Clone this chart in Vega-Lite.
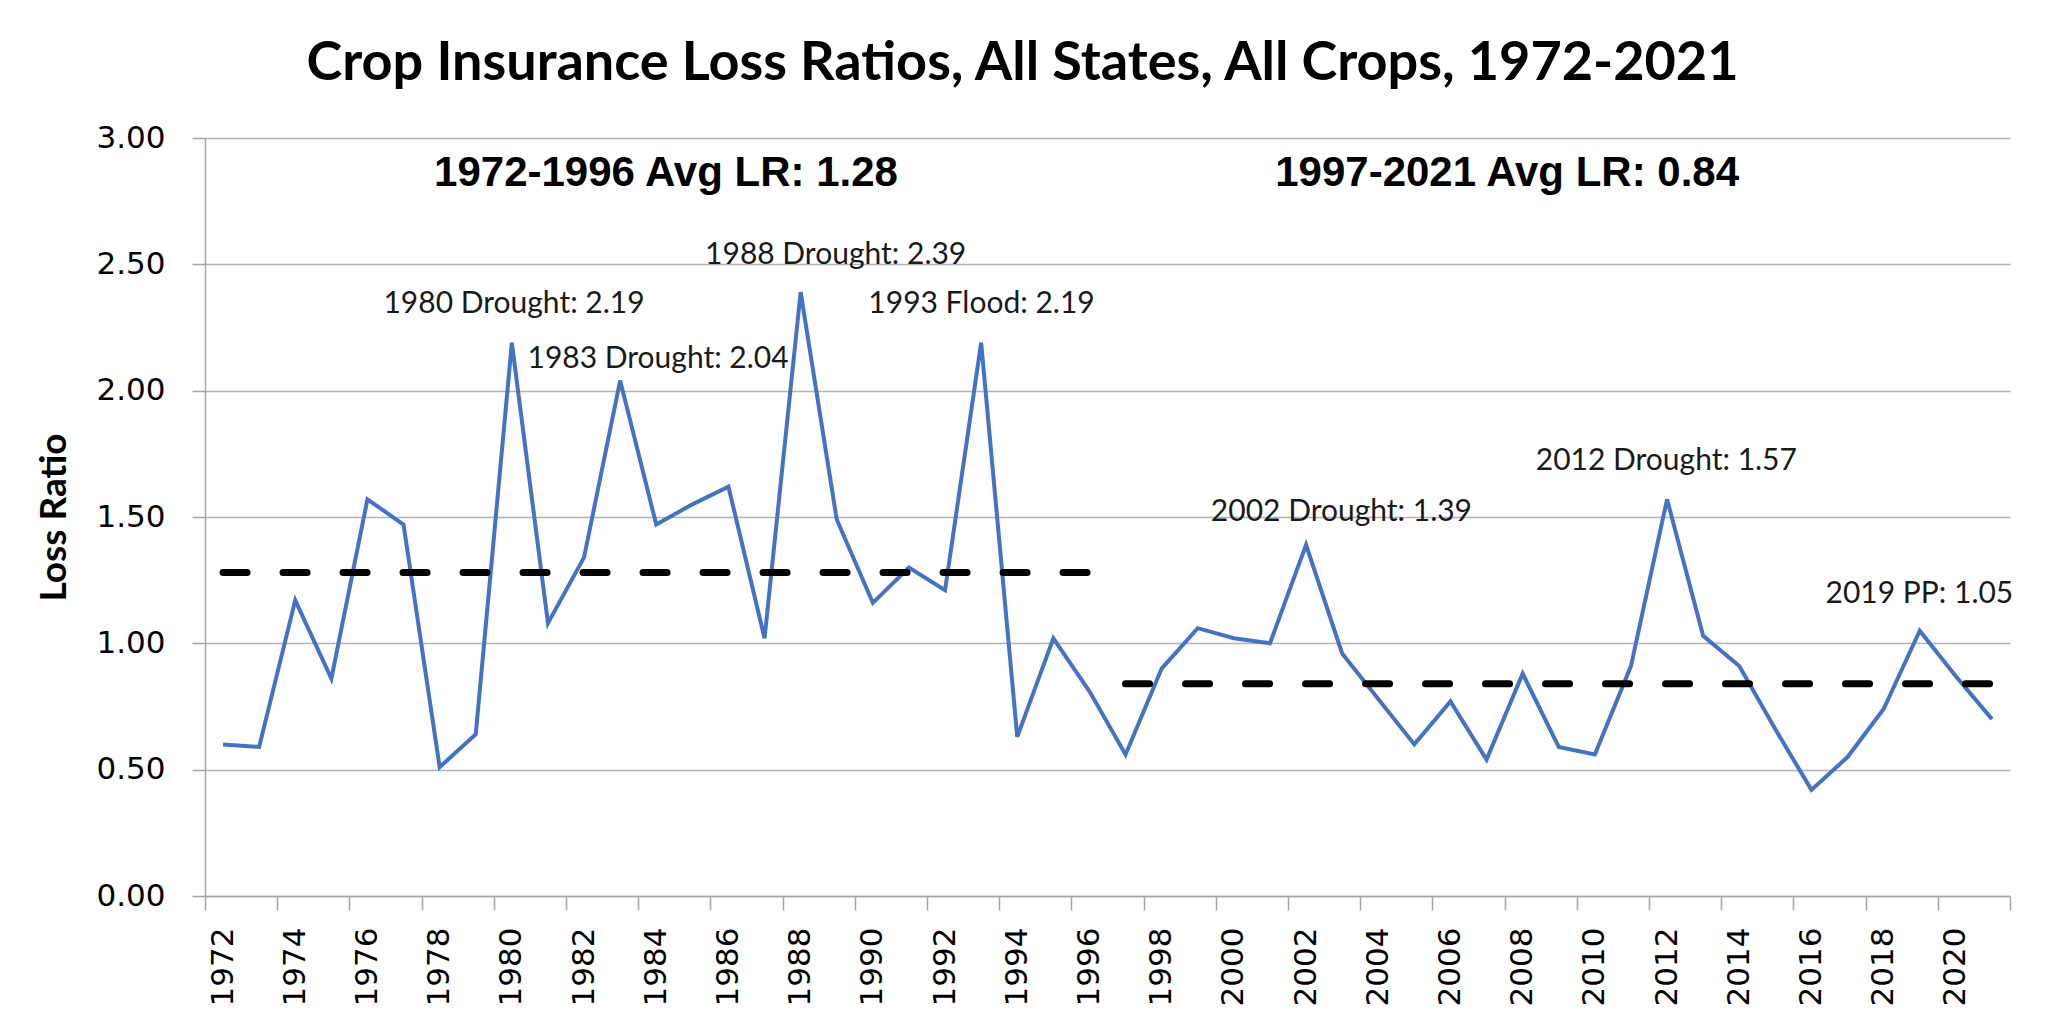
{
  "$schema": "https://vega.github.io/schema/vega-lite/v6.json",
  "width": 1805,
  "height": 758,
  "autosize": {"type": "none"},
  "padding": {"left": 205, "top": 138, "right": 38, "bottom": 128},
  "background": "white",
  "title": {
    "text": "Crop Insurance Loss Ratios, All States, All Crops, 1972-2021",
    "font": "Lato",
    "fontWeight": "bold",
    "fontSize": 54,
    "color": "#000000",
    "anchor": "middle",
    "frame": "group",
    "baseline": "alphabetic",
    "offset": 58,
    "dx": -85,
    "dy": 70
  },
  "config": {
    "view": {"stroke": null},
    "axis": {"domainColor": "#A6A6A6", "tickColor": "#A6A6A6", "gridColor": "#B3B3B3"}
  },
  "datasets": {
    "series": [
      {"year": 1972, "lr": 0.60}, {"year": 1973, "lr": 0.59}, {"year": 1974, "lr": 1.17},
      {"year": 1975, "lr": 0.86}, {"year": 1976, "lr": 1.57}, {"year": 1977, "lr": 1.47},
      {"year": 1978, "lr": 0.51}, {"year": 1979, "lr": 0.64}, {"year": 1980, "lr": 2.19},
      {"year": 1981, "lr": 1.08}, {"year": 1982, "lr": 1.34}, {"year": 1983, "lr": 2.04},
      {"year": 1984, "lr": 1.47}, {"year": 1985, "lr": 1.55}, {"year": 1986, "lr": 1.62},
      {"year": 1987, "lr": 1.02}, {"year": 1988, "lr": 2.39}, {"year": 1989, "lr": 1.49},
      {"year": 1990, "lr": 1.16}, {"year": 1991, "lr": 1.30}, {"year": 1992, "lr": 1.21},
      {"year": 1993, "lr": 2.19}, {"year": 1994, "lr": 0.63}, {"year": 1995, "lr": 1.02},
      {"year": 1996, "lr": 0.81}, {"year": 1997, "lr": 0.56}, {"year": 1998, "lr": 0.90},
      {"year": 1999, "lr": 1.06}, {"year": 2000, "lr": 1.02}, {"year": 2001, "lr": 1.00},
      {"year": 2002, "lr": 1.39}, {"year": 2003, "lr": 0.96}, {"year": 2004, "lr": 0.78},
      {"year": 2005, "lr": 0.60}, {"year": 2006, "lr": 0.77}, {"year": 2007, "lr": 0.54},
      {"year": 2008, "lr": 0.88}, {"year": 2009, "lr": 0.59}, {"year": 2010, "lr": 0.56},
      {"year": 2011, "lr": 0.91}, {"year": 2012, "lr": 1.57}, {"year": 2013, "lr": 1.03},
      {"year": 2014, "lr": 0.91}, {"year": 2015, "lr": 0.66}, {"year": 2016, "lr": 0.42},
      {"year": 2017, "lr": 0.55}, {"year": 2018, "lr": 0.74}, {"year": 2019, "lr": 1.05},
      {"year": 2020, "lr": 0.87}, {"year": 2021, "lr": 0.70}
    ],
    "averages": [
      {"period": "1972-1996", "start": 1972, "end": 1996, "avg": 1.28},
      {"period": "1997-2021", "start": 1997, "end": 2021, "avg": 0.84}
    ],
    "notes": [
      {"label": "1980 Drought: 2.19", "year": 1980.06, "lr": 2.307},
      {"label": "1983 Drought: 2.04", "year": 1984.05, "lr": 2.09},
      {"label": "1988 Drought: 2.39", "year": 1988.97, "lr": 2.50},
      {"label": "1993 Flood: 2.19", "year": 1993.01, "lr": 2.307},
      {"label": "2002 Drought: 1.39", "year": 2002.98, "lr": 1.484},
      {"label": "2012 Drought: 1.57", "year": 2011.98, "lr": 1.686},
      {"label": "2019 PP: 1.05", "year": 2018.99, "lr": 1.161}
    ],
    "avgLabels": [
      {"label": "1972-1996 Avg LR: 1.28", "year": 1984.27, "lr": 2.81},
      {"label": "1997-2021 Avg LR: 0.84", "year": 2007.57, "lr": 2.81}
    ]
  },
  "layer": [
    {
      "data": {"name": "series"},
      "mark": {"type": "line", "color": "#4472C4", "strokeWidth": 4, "strokeJoin": "miter"},
      "encoding": {
        "x": {
          "field": "year",
          "type": "quantitative",
          "scale": {"domain": [1971.5, 2021.5], "nice": false, "zero": false},
          "axis": {
            "title": null,
            "grid": false,
            "values": [1971.5, 1972.5, 1973.5, 1974.5, 1975.5, 1976.5, 1977.5, 1978.5, 1979.5, 1980.5, 1981.5, 1982.5, 1983.5, 1984.5, 1985.5, 1986.5, 1987.5, 1988.5, 1989.5, 1990.5, 1991.5, 1992.5, 1993.5, 1994.5, 1995.5, 1996.5, 1997.5, 1998.5, 1999.5, 2000.5, 2001.5, 2002.5, 2003.5, 2004.5, 2005.5, 2006.5, 2007.5, 2008.5, 2009.5, 2010.5, 2011.5, 2012.5, 2013.5, 2014.5, 2015.5, 2016.5, 2017.5, 2018.5, 2019.5, 2020.5, 2021.5],
            "labelExpr": "((datum.value + 0.5) % 2 == 0 && datum.value < 2021) ? format(datum.value + 0.5, 'd') : ''",
            "labelOffset": 18.05,
            "labelAngle": 270,
            "labelAlign": "right",
            "labelBaseline": "middle",
            "labelFont": "DejaVu Sans",
            "labelFontSize": 31,
            "labelColor": "#000000",
            "labelPadding": 17,
            "labelOverlap": false,
            "labelFlush": false,
            "labelBound": false,
            "tickSize": 14,
            "tickWidth": 1.5,
            "domainWidth": 1.5
          }
        },
        "y": {
          "field": "lr",
          "type": "quantitative",
          "scale": {"domain": [0, 3], "nice": false},
          "axis": {
            "title": "Loss Ratio",
            "titleFont": "Lato",
            "titleFontWeight": "bold",
            "titleFontSize": 37,
            "titleColor": "#000000",
            "titlePadding": 22,
            "values": [0, 0.5, 1, 1.5, 2, 2.5, 3],
            "format": ".2f",
            "labelFont": "DejaVu Sans",
            "labelFontSize": 31,
            "labelColor": "#000000",
            "labelPadding": 27,
            "tickSize": 13,
            "tickWidth": 1.5,
            "domainWidth": 1.5,
            "grid": true,
            "gridWidth": 1.5
          }
        }
      }
    },
    {
      "data": {"name": "averages"},
      "mark": {"type": "rule", "color": "#000000", "strokeWidth": 7, "strokeDash": [24, 36], "strokeCap": "round"},
      "encoding": {
        "x": {"field": "start", "type": "quantitative"},
        "x2": {"field": "end"},
        "y": {"field": "avg", "type": "quantitative"}
      }
    },
    {
      "data": {"name": "notes"},
      "mark": {"type": "text", "font": "Lato", "fontSize": 30, "color": "#1a1a1a", "align": "center", "baseline": "alphabetic"},
      "encoding": {
        "x": {"field": "year", "type": "quantitative"},
        "y": {"field": "lr", "type": "quantitative"},
        "text": {"field": "label"}
      }
    },
    {
      "data": {"name": "avgLabels"},
      "mark": {"type": "text", "font": "Liberation Sans", "fontWeight": "bold", "fontSize": 42, "color": "#000000", "align": "center", "baseline": "alphabetic"},
      "encoding": {
        "x": {"field": "year", "type": "quantitative"},
        "y": {"field": "lr", "type": "quantitative"},
        "text": {"field": "label"}
      }
    }
  ]
}
